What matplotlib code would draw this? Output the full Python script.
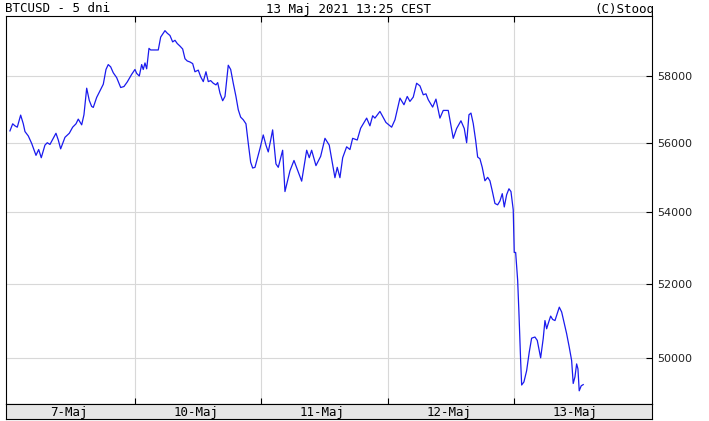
import numpy as np
import matplotlib
matplotlib.use("Agg")
import matplotlib.pyplot as plt
from matplotlib.ticker import NullLocator, FixedLocator

# czas w godzinach od początku 7-Maj (granice dni co 24 h), kurs BTCUSD
godziny = [
    0.28, 0.80, 1.23, 1.67, 2.31, 2.81, 3.13, 3.76, 4.40, 5.22, 5.73, 6.22,
    6.92, 7.36, 7.87, 8.39, 9.01, 9.45, 9.90, 10.72, 11.54, 12.18, 12.81,
    13.24, 13.89, 14.32, 14.84, 15.33, 15.78, 16.09, 16.73, 17.36, 17.99,
    18.50, 18.93, 19.39, 19.88, 20.53, 21.29, 21.91, 22.54, 23.37, 24.00,
    24.32, 24.82, 25.27, 25.57, 25.90, 26.22, 26.66, 26.98, 27.79, 28.42,
    28.88, 29.69, 30.13, 30.64, 31.15, 31.59, 32.02, 32.54, 33.05, 33.49,
    33.92, 34.43, 34.95, 35.38, 36.01, 36.46, 36.96, 37.47, 37.91, 38.36,
    38.86, 39.37, 39.69, 40.13, 40.64, 41.08, 41.40, 41.70, 42.16, 42.65,
    43.16, 43.60, 44.05, 44.55, 45.06, 45.50, 45.95, 46.33, 46.77, 47.20,
    47.72, 48.34, 48.85, 49.29, 49.75, 50.12, 50.75, 51.19, 52.02, 52.46,
    53.41, 54.17, 55.63, 56.58, 57.07, 57.52, 58.34, 59.23, 60.05, 60.86,
    61.94, 62.38, 62.89, 63.41, 64.16, 64.79, 65.30, 66.17, 66.82, 67.96,
    68.58, 69.10, 69.53, 70.48, 71.62, 72.70, 73.33, 74.28, 75.04, 75.66,
    76.17, 76.80, 77.44, 78.07, 78.70, 79.21, 79.65, 80.48, 81.11, 81.86,
    82.49, 83.44, 83.95, 84.39, 85.03, 85.85, 86.48, 86.93, 87.37, 87.75,
    88.18, 88.64, 89.02, 89.45, 89.89, 90.40, 90.92, 91.35, 91.79, 92.30,
    92.81, 93.25, 93.69, 94.07, 94.52, 94.96, 95.34, 95.77, 95.96, 96.23,
    96.61, 96.85, 97.18, 97.37, 97.80, 98.31, 98.81, 99.26, 99.89, 100.33,
    100.97, 101.46, 101.79, 102.11, 102.41, 102.87, 103.25, 103.69, 104.01,
    104.51, 104.96, 105.39, 105.90, 106.40, 106.85, 107.15, 107.48, 107.80,
    108.05, 108.29, 108.67, 109.05,
]
kurs = [
    56350, 56560, 56500, 56460, 56820, 56560, 56330, 56200, 55980, 55630,
    55800, 55560, 55930, 56000, 55950, 56100, 56280, 56080, 55820, 56160,
    56280, 56460, 56560, 56700, 56530, 56830, 57630, 57260, 57080, 57050,
    57350, 57550, 57750, 58200, 58350, 58280, 58100, 57950, 57650, 57680,
    57820, 58050, 58200, 58080, 58000, 58350, 58200, 58400, 58220, 58850,
    58800, 58800, 58800, 59200, 59400, 59320, 59250, 59050, 59100, 59000,
    58920, 58830, 58530, 58460, 58430, 58380, 58130, 58180, 57980, 57830,
    58130, 57830, 57860, 57780, 57730, 57800, 57480, 57250, 57380, 57880,
    58330, 58200, 57780, 57380, 56980, 56760, 56680, 56560, 55980, 55430,
    55260, 55280, 55530, 55830, 56230, 55930, 55730, 56080, 56380, 55380,
    55280, 55780, 54580, 55180, 55480, 54880, 55780, 55560, 55780, 55330,
    55600, 56130, 55930, 54980, 55280, 54980, 55560, 55880, 55800, 56130,
    56080, 56430, 56730, 56500, 56800, 56730, 56930, 56600, 56460, 56680,
    57330, 57130, 57380, 57230, 57360, 57780, 57700, 57430, 57460, 57280,
    57060, 57300, 56730, 56960, 56960, 56520, 56130, 56420, 56650, 56420,
    56000, 56830, 56880, 56570, 56070, 55580, 55530, 55280, 54890, 54990,
    54890, 54600, 54240, 54200, 54310, 54520, 54140, 54490, 54660, 54580,
    54060, 52860, 52860, 52090, 51220, 49920, 49300, 49380, 49670, 50160,
    50530, 50560, 50470, 50010, 50520, 51000, 50780, 50920, 51120, 51030,
    51000, 51140, 51360, 51230, 50960, 50650, 50290, 49940, 49340, 49510,
    49850, 49720, 49150, 49280, 49310,
]

dni = ["7-Maj", "10-Maj", "11-Maj", "12-Maj", "13-Maj"]
poziomy = [50000, 52000, 54000, 56000, 58000]

mono = "DejaVu Sans Mono"

fig = plt.figure(figsize=(7.09, 4.21), dpi=100)
W, H = 709, 421

ax = fig.add_axes([6 / W, 1 - 404 / H, 646 / W, 388 / H])
ax.plot(godziny, kurs, color="#1a1aee", lw=0.9)
ax.set_yscale("log")
ax.set_xlim(-0.47, 122.1)
ax.set_ylim(48810, 59860)

granice = [24, 48, 72, 96]
ax.xaxis.set_major_locator(FixedLocator(granice))
ax.yaxis.set_major_locator(FixedLocator(poziomy))
ax.yaxis.set_minor_locator(NullLocator())
ax.set_yticklabels([str(p) for p in poziomy])
ax.yaxis.tick_right()
ax.tick_params(axis="x", direction="in", length=4, width=0.8, top=True,
               bottom=True, labelbottom=False, color="black")
ax.tick_params(axis="y", direction="in", length=4, width=0.8, pad=4,
               labelsize=8, labelcolor="#222222", left=False, right=True)
ax.grid(True, color="#d8d8d8", lw=0.8)
ax.set_axisbelow(True)
for s in ax.spines.values():
    s.set_linewidth(0.8)
    s.set_color("black")

# pasek z datami
pas = fig.add_axes([6 / W, 1 - 419 / H, 646 / W, 15 / H])
pas.set_facecolor("#e6e6e6")
pas.set_xlim(ax.get_xlim())
pas.set_ylim(0, 1)
pas.set_xticks([])
pas.set_yticks([])
for s in pas.spines.values():
    s.set_linewidth(0.8)
for i, d in enumerate(dni):
    pas.text(i * 24 + 11.5, 0.45, d, ha="center", va="center",
             family=mono, fontsize=9)

fig.text(5 / W, 1 - 9 / H, "BTCUSD - 5 dni", ha="left", va="center",
         family=mono, fontsize=9)
fig.text(348 / W, 1 - 9 / H, "13 Maj 2021 13:25 CEST", ha="center",
         va="center", family=mono, fontsize=9)
fig.text(654 / W, 1 - 9 / H, "(C)Stooq", ha="right", va="center",
         family=mono, fontsize=9)

fig.savefig("out.png", dpi=100)
